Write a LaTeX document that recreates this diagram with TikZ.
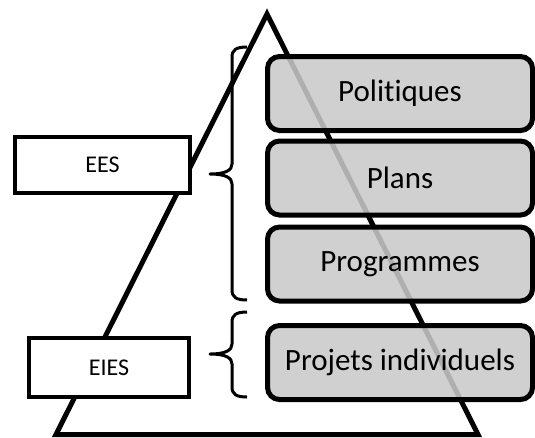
\documentclass[tikz,border=0pt]{standalone}
\usepackage{fontspec}
\setmainfont{Carlito}[Ligatures=NoCommon]
\tikzset{>=stealth}
\usetikzlibrary{shapes,positioning}
\definecolor{boxgray}{RGB}{201,201,201}
\tikzset{
  niveau/.style={draw, line width=5pt, rounded corners=12pt, fill=boxgray,
    fill opacity=.875, text opacity=1, minimum width=265pt, minimum height=74pt,
    font=\fontsize{31}{33}\selectfont},
  etiquette/.style={draw, line width=4pt, fill=white, inner sep=0pt,
    font=\fontsize{24}{26}\selectfont},
  accolade/.style={line width=3pt, line join=round}
}

\begin{document}
\begin{tikzpicture}[x=1pt,y=-1pt]
    \useasboundingbox (0,0) rectangle (535,437);
    % pyramide
    \coordinate (sommet) at (267,14);
    \coordinate (baseG) at (56,434.5);
    \coordinate (baseD) at (478,434.5);
    \draw[line width=5pt, line join=miter] (baseG) -- (sommet) -- (baseD) -- cycle;
    % accolades
    \coordinate (accH) at (247,47);
    \coordinate (pointeH) at (210,174);
    \coordinate (accB) at (247,312);
    \coordinate (pointeB) at (210,354);
    \draw[accolade] (accH) .. controls +(-11,0) and +(0,-7) .. (232,57)
      -- (232,164) .. controls (232,170) and (226,174) .. (pointeH)
      .. controls (226,174) and (232,178) .. (232,184)
      -- (232,290) .. controls (232,297) and (236,300) .. (247,300);
    \draw[accolade] (accB) .. controls +(-11,0) and +(0,-7) .. (232,322)
      -- (232,344) .. controls (232,350) and (226,354) .. (pointeB)
      .. controls (226,354) and (232,358) .. (232,364)
      -- (232,387) .. controls (232,394) and (236,397) .. (247,397);
    % niveaux
    \node[niveau] (pol) at (400,93.5) {Politiques};
    \node[niveau] (plans) at (400,178) {Plans};
    \node[niveau] (prog) at (400,264) {Programmes};
    \node[niveau] (proj) at (400,362.5) {Projets individuels};
    % evaluations
    \node[etiquette, minimum width=175pt, minimum height=56pt] (ees) at (102.5,165) {\raisebox{-9pt}{EES}};
    \node[etiquette, minimum width=160pt, minimum height=59pt] (eies) at (109,367.5) {\raisebox{-8pt}{EIES}};
\end{tikzpicture}
\end{document}
